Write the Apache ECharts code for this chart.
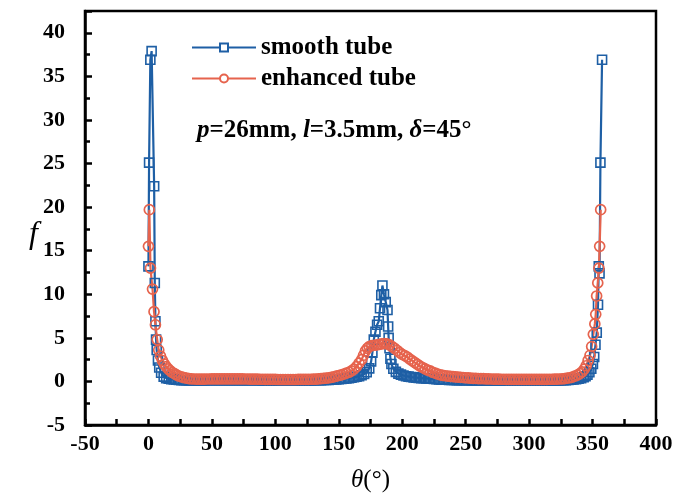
<!DOCTYPE html>
<html>
<head>
<meta charset="utf-8">
<script src="https://cdn.jsdelivr.net/npm/echarts@6/dist/echarts.min.js"></script>
<style>
  html, body { margin: 0; padding: 0; background: #fff; }
  #chart { width: 680px; height: 499px; }
</style>
</head>
<body>
<div id="chart"></div>
<script>
// smooth tube, theta (deg) and f
const smoothTheta = [
  0, 0.5, 1.5, 2.5, 4.5, 5, 5.5, 6, 6.5, 7.5, 8.5, 10, 12, 14, 16, 18, 20,
  22, 24, 26, 28, 30, 32, 34, 36, 38, 40, 42, 44, 46, 48, 50, 52,
  54, 56, 58, 60, 62, 64, 66, 68, 70, 72, 74, 76, 78, 80, 82, 84,
  86, 88, 90, 92, 94, 96, 98, 100, 102, 104, 106, 108, 110, 112, 114, 116,
  118, 120, 122, 124, 126, 128, 130, 132, 134, 136, 138, 140, 142, 144, 146, 148,
  150, 152, 154, 156, 158, 160, 162, 164, 166, 168, 170, 172, 174,
  175.5, 176.5, 177.6, 178.9, 180.2, 181.5, 182.5, 183.5, 184.4, 185.6, 187, 188.4, 188.9, 189.3, 190, 190.7, 191.5,
  193, 195, 197, 199, 201, 203, 205, 207, 209, 211, 213, 215, 217, 219, 221, 223,
  225, 227, 229, 231, 233, 235, 237, 239, 241, 243, 245, 247, 249, 251, 253, 255,
  257, 259, 261, 263, 265, 267, 269, 271, 273, 275, 277, 279, 281, 283, 285, 287,
  289, 291, 293, 295, 297, 299, 301, 303, 305, 307, 309, 311, 313, 315, 317, 319,
  321, 323, 325, 327, 329, 331, 333, 335, 337, 339, 341, 343,
  344.5, 346, 347.5, 349, 350.3, 351.3, 352.3, 353.3, 354.3, 354.9, 355.5, 356.2, 357.5
]
const smoothF = [
  13.2, 25.1, 36.9, 37.9, 22.4, 11.3, 6.9, 4.8, 3.6, 2.4, 1.6, 1.0, 0.55, 0.38, 0.3, 0.25, 0.22,
  0.2, 0.17, 0.15, 0.14, 0.13, 0.12, 0.12, 0.12, 0.12, 0.12, 0.12, 0.12, 0.13, 0.13, 0.14, 0.14,
  0.14, 0.15, 0.15, 0.15, 0.15, 0.15, 0.15, 0.15, 0.15, 0.15, 0.14, 0.14, 0.14, 0.14, 0.13, 0.13,
  0.13, 0.13, 0.12, 0.12, 0.12, 0.12, 0.11, 0.11, 0.11, 0.11, 0.11, 0.11, 0.11, 0.11, 0.11, 0.11,
  0.11, 0.11, 0.11, 0.12, 0.12, 0.12, 0.13, 0.13, 0.14, 0.15, 0.16, 0.17, 0.18, 0.2, 0.22, 0.24,
  0.26, 0.28, 0.31, 0.34, 0.38, 0.42, 0.47, 0.53, 0.6, 0.7, 0.85, 1.05, 1.5,
  2.3, 3.3, 4.8, 5.7, 6.5, 6.9, 8.4, 9.9, 11.0, 10.0, 9.1, 8.2, 6.3, 5.0, 3.8, 2.6, 2.0,
  1.45, 1.1, 0.9, 0.78, 0.68, 0.6, 0.55, 0.5, 0.46, 0.43, 0.4, 0.38, 0.36, 0.34, 0.32, 0.3,
  0.27, 0.25, 0.23, 0.21, 0.2, 0.19, 0.18, 0.17, 0.16, 0.15, 0.15, 0.14, 0.14, 0.13, 0.13, 0.12,
  0.12, 0.12, 0.11, 0.11, 0.11, 0.1, 0.1, 0.1, 0.1, 0.1, 0.1, 0.1, 0.1, 0.1, 0.1, 0.1,
  0.1, 0.1, 0.1, 0.1, 0.1, 0.1, 0.1, 0.1, 0.1, 0.1, 0.1, 0.1, 0.1, 0.11, 0.11, 0.11,
  0.12, 0.12, 0.13, 0.14, 0.15, 0.17, 0.19, 0.22, 0.26, 0.31, 0.38, 0.47,
  0.6, 0.78, 1.05, 1.45, 2.0, 2.8, 4.2, 5.6, 8.8, 13.2, 12.4, 25.1, 36.9
]

// enhanced tube
const enhancedTheta = [
  0, 0.7, 1.6, 3.2, 4.4, 5.5, 6.9, 8.1, 9.5, 11, 12.5, 14, 15.5, 17, 18.7, 20.5,
  22, 24, 26, 28, 30, 32, 34, 36, 38, 40, 42, 44, 46, 48, 50, 52,
  54, 56, 58, 60, 62, 64, 66, 68, 70, 72, 74, 76, 78, 80, 82, 84,
  86, 88, 90, 92, 94, 96, 98, 100, 102, 104, 106, 108, 110, 112, 114, 116,
  118, 120, 122, 124, 126, 128, 130, 132, 134, 136, 138,
  140, 142, 144, 146, 148, 150, 152, 154, 156, 158, 160, 162, 164, 166, 168,
  169.5, 171, 172.5, 174, 176, 178, 180, 182, 184, 186, 188, 190, 192, 194, 196, 198, 200,
  202, 204, 206, 208, 210, 212, 214, 216, 218, 220, 222, 224, 226, 228, 230, 232,
  234, 236, 238, 240, 242, 244, 246, 248, 250, 252, 254, 256, 258, 260, 262, 264,
  266, 268, 270, 272, 274, 276, 278, 280, 282, 284, 286, 288, 290, 292, 294, 296,
  298, 300, 302, 304, 306, 308, 310, 312, 314, 316, 318, 320, 322, 324, 326, 328, 330,
  332, 334, 336, 338, 340, 341.8, 343.5, 345, 346.5, 348, 349.3, 350.6, 351.8, 352.5, 353.2, 354.1, 355, 355.6, 356.4
]
const enhancedF = [
  15.5, 19.7, 13.0, 10.6, 8.0, 6.5, 4.8, 3.6, 2.9, 2.4, 2.0, 1.7, 1.45, 1.25, 1.05, 0.9,
  0.75, 0.62, 0.52, 0.44, 0.38, 0.33, 0.3, 0.28, 0.27, 0.27, 0.27, 0.27, 0.28, 0.28, 0.29, 0.29,
  0.3, 0.3, 0.3, 0.3, 0.3, 0.3, 0.3, 0.3, 0.3, 0.29, 0.29, 0.28, 0.28, 0.27, 0.27, 0.26,
  0.26, 0.25, 0.25, 0.24, 0.24, 0.23, 0.23, 0.23, 0.22, 0.22, 0.22, 0.22, 0.22, 0.22, 0.22, 0.22,
  0.23, 0.23, 0.23, 0.24, 0.24, 0.25, 0.26, 0.27, 0.29, 0.31, 0.34,
  0.37, 0.41, 0.46, 0.52, 0.6, 0.68, 0.76, 0.85, 0.95, 1.05, 1.2, 1.4, 1.7, 2.1, 2.5,
  3.0, 3.5, 3.8, 4.0, 4.1, 4.15, 4.2, 4.25, 4.3, 4.35, 4.3, 4.2, 4.0, 3.8, 3.55, 3.3, 3.1,
  2.95, 2.8, 2.55, 2.35, 2.15, 1.95, 1.75, 1.6, 1.45, 1.3, 1.2, 1.05, 0.95, 0.85, 0.75, 0.7,
  0.65, 0.6, 0.57, 0.54, 0.52, 0.5, 0.48, 0.45, 0.42, 0.4, 0.38, 0.36, 0.34, 0.33, 0.32, 0.31,
  0.3, 0.29, 0.28, 0.27, 0.26, 0.26, 0.25, 0.25, 0.24, 0.24, 0.24, 0.23, 0.23, 0.23, 0.23, 0.23,
  0.23, 0.23, 0.23, 0.23, 0.23, 0.23, 0.24, 0.24, 0.24, 0.25, 0.25, 0.26, 0.27, 0.28, 0.3, 0.33, 0.37,
  0.42, 0.5, 0.6, 0.72, 0.9, 1.1, 1.4, 1.8, 2.4, 3.0, 4.0, 5.4, 6.6, 7.7, 9.8, 11.3, 13.0, 15.5, 19.7
]

const blue = '#1e5fa5'
const red = '#e6634d'
const serif = 'Liberation Serif'

const chart = echarts.init(document.getElementById('chart'))

const zip = (xs, ys) => xs.map((x, i) => [x, ys[i]])

chart.setOption({
  animation: false,
  backgroundColor: '#fff',
  grid: {
    left: 85, right: 24, top: 11, bottom: 74,
    show: true, borderColor: '#000', borderWidth: 2.5
  },
  legend: {
    orient: 'vertical',
    left: 186,
    top: 30,
    itemWidth: 64,
    itemHeight: 10,
    itemGap: 6,
    itemStyle: { color: '#fff' },
    textStyle: { fontFamily: serif, fontWeight: 'bold', fontSize: 25, color: '#000' },
    data: ['smooth tube', 'enhanced tube']
  },
  xAxis: {
    type: 'value',
    min: -50, max: 400, interval: 50,
    name: '{i|θ}{n|(°)}',
    nameLocation: 'middle',
    nameGap: 43,
    nameTextStyle: {
      rich: {
        i: { fontFamily: serif, fontStyle: 'italic', fontSize: 25, color: '#000' },
        n: { fontFamily: serif, fontSize: 25, color: '#000' }
      }
    },
    axisLine: { onZero: false, lineStyle: { color: '#000', width: 2.5 } },
    axisTick: { inside: true, length: 6, lineStyle: { color: '#000', width: 2.5 } },
    minorTick: { show: true, splitNumber: 2, length: 6, lineStyle: { color: '#000', width: 2.5 } },
    axisLabel: { fontFamily: serif, fontWeight: 'bold', fontSize: 22, color: '#000', margin: 8 },
    splitLine: { show: false }
  },
  yAxis: {
    type: 'value',
    min: -5, max: 42.5, interval: 5,
    axisLine: { onZero: false, lineStyle: { color: '#000', width: 2.5 } },
    axisTick: { inside: true, length: 7, lineStyle: { color: '#000', width: 2.5 } },
    minorTick: { show: true, splitNumber: 2, length: 5, lineStyle: { color: '#000', width: 2.5 } },
    axisLabel: {
      fontFamily: serif, fontWeight: 'bold', fontSize: 22, color: '#000', margin: 20,
      formatter: (v) => (v % 5 === 0 ? String(v) : '')
    },
    splitLine: { show: false }
  },
  graphic: [
    {
      type: 'text',
      left: 29,
      top: 219,
      style: {
        text: 'f',
        fontFamily: serif, fontStyle: 'italic', fontSize: 32, fill: '#000'
      }
    },
    {
      type: 'text',
      left: 197,
      top: 118,
      style: {
        text: '{i|p}{b|=26mm, }{i|l}{b|=3.5mm, }{i|δ}{b|=45°}',
        rich: {
          i: { fontFamily: serif, fontStyle: 'italic', fontWeight: 'bold', fontSize: 25, fill: '#000' },
          b: { fontFamily: serif, fontWeight: 'bold', fontSize: 25, fill: '#000' }
        }
      }
    }
  ],
  series: [
    {
      name: 'smooth tube',
      type: 'line',
      data: zip(smoothTheta, smoothF),
      symbol: 'rect',
      symbolSize: 9,
      showAllSymbol: true,
      lineStyle: { color: blue, width: 2.2 },
      itemStyle: { color: 'rgba(255,255,255,0)', borderColor: blue, borderWidth: 1.6 }
    },
    {
      name: 'enhanced tube',
      type: 'line',
      data: zip(enhancedTheta, enhancedF),
      symbol: 'circle',
      symbolSize: 10,
      showAllSymbol: true,
      lineStyle: { color: red, width: 2.2 },
      itemStyle: { color: 'rgba(255,255,255,0)', borderColor: red, borderWidth: 1.7 }
    }
  ]
})
</script>
</body>
</html>
